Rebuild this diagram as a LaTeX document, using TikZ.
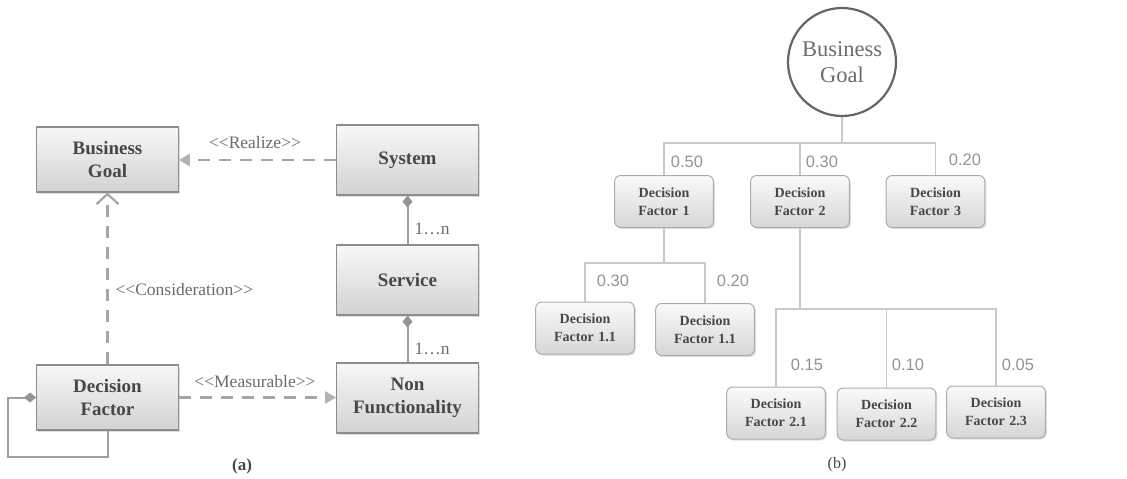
\documentclass[tikz,border=0pt]{standalone}
\usepackage{fontspec}
\setmainfont{Liberation Serif}
\newfontfamily\numfont{Liberation Sans}
\usetikzlibrary{arrows.meta,shadows,calc}
\definecolor{txt}{gray}{0.28}
\definecolor{edge}{gray}{0.55}
\definecolor{lab}{gray}{0.42}
\newcommand{\lt}{\mbox{<}\mbox{<}}
\newcommand{\gt}{\mbox{>}\mbox{>}}
\tikzset{
  umlbox/.style={draw=edge, line width=1.2pt, top color=gray!6, bottom color=gray!35,
    minimum width=139pt, text width=135pt, align=center, text=txt,
    font=\fontsize{19}{23}\selectfont\bfseries,
    drop shadow={opacity=0.25, shadow xshift=1.5pt, shadow yshift=-1.5pt}},
  dfbox/.style={draw=gray!65, line width=1pt, rounded corners=6pt, top color=gray!4, bottom color=gray!32,
    minimum width=95pt, minimum height=52pt, text width=92pt, align=center, text=txt,
    font=\fontsize{14}{18}\selectfont\bfseries,
    drop shadow={opacity=0.25, shadow xshift=1.5pt, shadow yshift=-1.5pt}},
  dashline/.style={draw=gray!70, line width=2.6pt, dash pattern=on 12pt off 9pt},
  solidline/.style={draw=gray!75, line width=2pt},
  tree/.style={draw=gray!42, line width=1.3pt},
  stereo/.style={text=lab, font=\fontsize{17.5}{19}\selectfont},
  weight/.style={text=gray!85, font=\numfont\fontsize{16.5}{18}\selectfont},
}
\begin{document}
\begin{tikzpicture}[x=1pt,y=1pt]
\useasboundingbox (0,0) rectangle (1127,-479);
% ---------- (a) ----------
\node[umlbox, minimum height=65pt] (bg) at (107.5,-159.5) {Business\\Goal};
\node[umlbox, minimum height=70pt] (sys) at (407.5,-160) {System};
\node[umlbox, minimum height=70pt] (svc) at (407.5,-280) {Service};
\node[umlbox, minimum height=70pt] (nf) at (407.5,-398) {Non\\Functionality};
\node[umlbox, minimum height=65pt] (df) at (107.5,-397.5) {Decision\\Factor};

\draw[dashline, -{Triangle[length=11pt,width=12pt,fill=gray!60,color=gray!60]}] (sys.west) -- (sys.west -| bg.east);
\draw[dashline, -{Straight Barb[length=10pt,width=22pt,line width=2.2pt]}] (df.north) -- (bg.south);
\draw[dashline, -{Triangle[length=11pt,width=12pt,fill=gray!60,color=gray!60]}] (df.east) -- (df.east -| nf.west);

\draw[solidline, {Diamond[length=12pt,width=10pt,fill=gray!85,color=gray!85]}-] (sys.south) -- (svc.north);
\draw[solidline, {Diamond[length=12pt,width=10pt,fill=gray!85,color=gray!85]}-] (svc.south) -- (nf.north);
\draw[solidline, {Diamond[length=12pt,width=10pt,fill=gray!85,color=gray!85]}-] (df.west) -| ++(-28,-59) -| (df.south);

\node[stereo] (lr) at (255,-143) {\lt Realize\gt};
\node[stereo, anchor=west] (lc) at (112,-290) {\lt Consideration\gt};
\node[stereo] (lm) at (255,-382) {\lt Measurable\gt};
\node[stereo] (m1) at (432,-229) {1\ldots n};
\node[stereo] (m2) at (432,-349) {1\ldots n};
\node[font=\fontsize{17}{19}\selectfont\bfseries, text=txt] (capa) at (242,-466) {(a)};

% ---------- (b) ----------
\node[circle, draw=gray!80!black, line width=2.2pt, minimum size=108pt, inner sep=0pt, align=center,
  text=gray!85!black, font=\fontsize{22.5}{26}\selectfont] (goal) at (842,-62) {Business\\Goal};
\node[dfbox] (df1) at (664,-201.5) {Decision\\Factor 1};
\node[dfbox] (df2) at (800,-201.5) {Decision\\Factor 2};
\node[dfbox] (df3) at (935.5,-201.5) {Decision\\Factor 3};
\node[dfbox] (df11a) at (585,-328) {Decision\\Factor 1.1};
\node[dfbox] (df11b) at (705,-329.5) {Decision\\Factor 1.1};
\node[dfbox] (df21) at (776,-413) {Decision\\Factor 2.1};
\node[dfbox] (df22) at (886.5,-414) {Decision\\Factor 2.2};
\node[dfbox] (df23) at (996,-412) {Decision\\Factor 2.3};

\coordinate (b1) at (842,-143);
\coordinate (b2) at (664,-263);
\coordinate (b3) at (800,-309);
\draw[tree] (goal.south) -- (b1);
\draw[tree] (df1.north) |- (b1);
\draw[tree] (df3.north) |- (b1);
\draw[tree] (df2.north) -- (df2.north |- b1);
\draw[tree] (df1.south) -- (b2);
\draw[tree] (df11a.north) |- (b2);
\draw[tree] (df11b.north) |- (b2);
\draw[tree] (df2.south) -- (b3);
\draw[tree] (df21.north) |- (b3);
\draw[tree] (df23.north) |- (b3);
\draw[tree] (df22.north) -- (df22.north |- b3);

\node[weight] (w1) at (687,-162) {0.50};
\node[weight] (w2) at (822,-162) {0.30};
\node[weight] (w3) at (965,-160) {0.20};
\node[weight] (w4) at (613,-281) {0.30};
\node[weight] (w5) at (733,-281) {0.20};
\node[weight] (w6) at (807,-365) {0.15};
\node[weight] (w7) at (908,-365) {0.10};
\node[weight] (w8) at (1018,-365) {0.05};
\node[font=\fontsize{16}{18}\selectfont, text=txt] (capb) at (837,-465) {(b)};
\end{tikzpicture}
\end{document}
